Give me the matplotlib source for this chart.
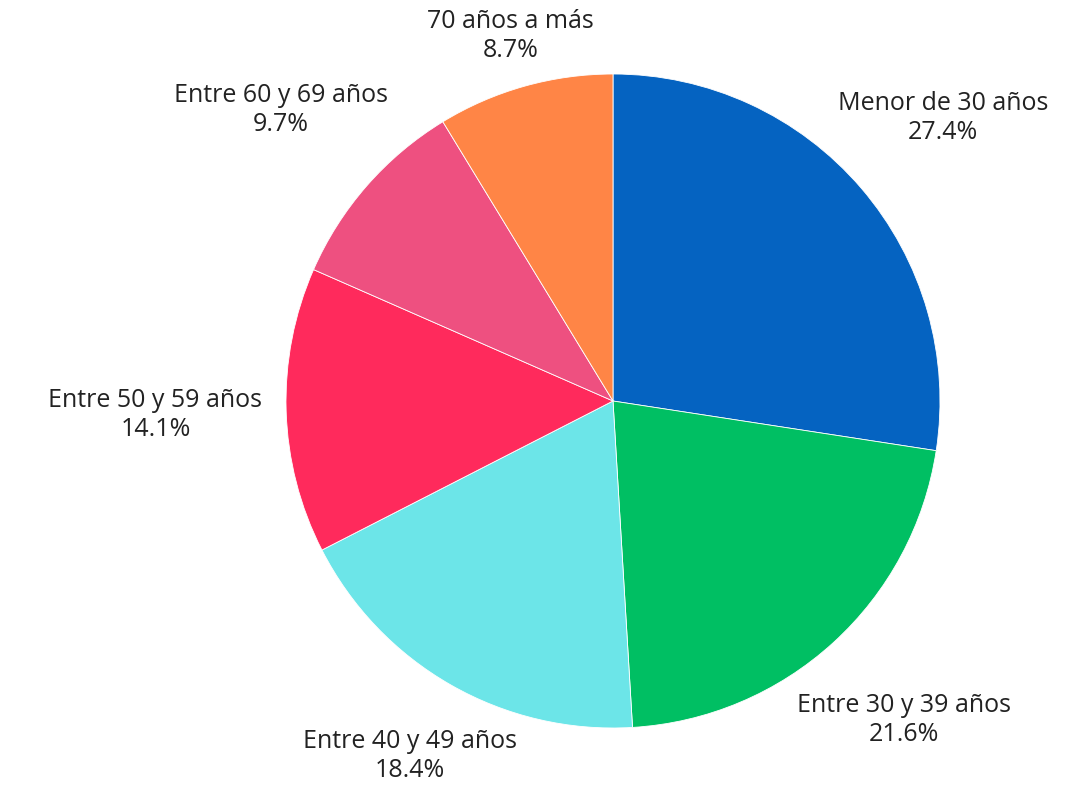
import numpy as np
import matplotlib
matplotlib.use('Agg')
from matplotlib import pyplot as plt

plt.rcParams['font.family'] = ['Open Sans', 'DejaVu Sans']

labels = ['Menor de 30 años', 'Entre 30 y 39 años', 'Entre 40 y 49 años',
          'Entre 50 y 59 años', 'Entre 60 y 69 años', '70 años a más']
shares = [27.4, 21.6, 18.4, 14.1, 9.7, 8.7]
colors = ['#0563C1', '#00BF63', '#6CE5E8', '#FF2A5C', '#EE5080', '#FF8546']

# how far each label sits from the centre, in pie radii
label_dist = [1.33, 1.32, 1.25, 1.40, 1.35, 1.16]

W, H = 1088, 793
fig = plt.figure(figsize=(W / 100, H / 100), dpi=100)
ax = fig.add_axes([0, 0, 1, 1])
ax.set_aspect('equal')
ax.axis('off')

cx, cy, R = 613, H - 401, 327
wedges, _ = ax.pie(shares, colors=colors, startangle=90, counterclock=False,
                   center=(cx, cy), radius=R,
                   wedgeprops=dict(linewidth=0.6, edgecolor='white'))
ax.set_xlim(0, W)
ax.set_ylim(0, H)

for w, lab, val, d in zip(wedges, labels, shares, label_dist):
    mid = np.deg2rad((w.theta1 + w.theta2) / 2)
    x = cx + d * R * np.cos(mid)
    y = cy + d * R * np.sin(mid)
    ax.text(x, y, f'{lab}\n{val}%', ha='center', va='center',
            fontsize=18, color='#222222', linespacing=1.2)

fig.savefig('out.png', dpi=100)
